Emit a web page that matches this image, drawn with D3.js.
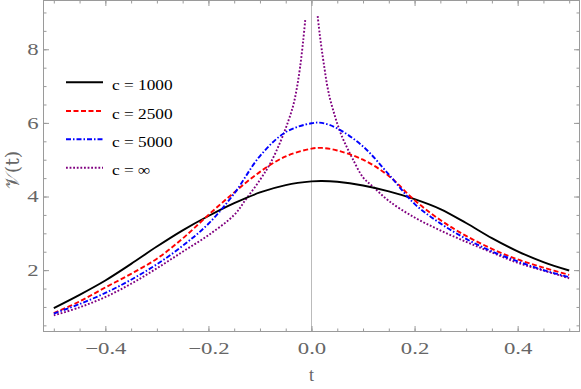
<!DOCTYPE html>
<html><head><meta charset="utf-8">
<script src="https://cdn.jsdelivr.net/npm/d3@7"></script>
<style>body{margin:0;background:#fff}svg{display:block}</style>
</head><body><svg id="c" width="581" height="389"></svg>
<script>
// ---- data ----
const tGrid = [-0.5,-0.45,-0.4,-0.35,-0.3,-0.25,-0.2,-0.15,-0.1,-0.05,0,0.02,0.05,0.1,0.15,0.2,0.25,0.3,0.35,0.4,0.45,0.5];
const v1000 = [0.97,1.33,1.72,2.17,2.64,3.08,3.47,3.82,4.11,4.31,4.41,4.42,4.40,4.30,4.14,3.93,3.66,3.28,2.87,2.51,2.22,1.99];
const v2500 = [0.83,1.15,1.53,1.90,2.31,2.86,3.50,4.11,4.67,5.09,5.30,5.32,5.25,5.00,4.56,3.90,3.36,2.93,2.58,2.29,2.07,1.87];
const v5000 = [0.82,1.08,1.38,1.74,2.16,2.66,3.26,4.08,5.10,5.75,5.99,6.00,5.85,5.36,4.60,3.80,3.27,2.85,2.51,2.24,2.00,1.81];
const infLeftT = [-0.5,-0.45,-0.4,-0.35,-0.3,-0.25,-0.2,-0.15,-0.126,-0.1,-0.08,-0.06,-0.045,-0.035,-0.028,-0.022,-0.016,-0.012];
const infLeftV = [0.77,0.99,1.27,1.63,2.05,2.50,2.95,3.50,3.95,4.45,4.90,5.50,6.05,6.50,6.98,7.53,8.25,8.82];
const infRightT = [0.012,0.016,0.02,0.025,0.03,0.036,0.043,0.05,0.06,0.07,0.08,0.1,0.12,0.15,0.2,0.25,0.3,0.35,0.4,0.45,0.5];
const infRightV = [8.9,8.4,7.98,7.5,7.05,6.65,6.3,5.98,5.6,5.3,5.02,4.52,4.26,3.88,3.43,3.08,2.77,2.48,2.2,1.99,1.78];
const seriesNames = ["c = 1000","c = 2500","c = 5000","c = \u221E"];
const seriesColors = ["#000000","#ff0000","#0000ff","#800080"];
const seriesDash = [null,"5,2.5","5,2,1.5,2","1.8,1.8"];
const xMajorTicks = [-0.4,-0.2,0.0,0.2,0.4];
const yMajorTicks = [2,4,6,8];
const xLabel = "t";
const yLabel = "\uD835\uDCB1(t)";

// ---- layout ----
const svg = d3.select("#c");
const L=43.5, R=579.5, T=0.5, B=331.5;
const x = d3.scaleLinear().domain([-0.52,0.52]).range([L,R]);
const y = d3.scaleLinear().domain([0.333,9.325]).range([B,T]);
const frameCol = "#9a9a9a", labelCol = "#666666";
const xMinor = d3.range(-0.5,0.5001,0.05).map(d=>+d.toFixed(2));
const yMinor = d3.range(0.5,9.01,0.5);

// zero axis line
svg.append("line").attr("x1",x(0)).attr("x2",x(0)).attr("y1",T).attr("y2",B)
  .attr("stroke","#bbbbbb").attr("stroke-width",1);

function styleAxis(g){ g.select(".domain").remove(); g.selectAll("line").attr("stroke",frameCol); }
const fmtX = d3.format(".1f");
// bottom
svg.append("g").attr("transform",`translate(0,${B})`)
  .call(d3.axisBottom(x).tickValues(xMinor).tickSize(-3).tickFormat("")).call(styleAxis);
const gb = svg.append("g").attr("transform",`translate(0,${B})`)
  .call(d3.axisBottom(x).tickValues(xMajorTicks).tickSize(-5.5).tickPadding(11).tickFormat(fmtX)).call(styleAxis);
// top
svg.append("g").attr("transform",`translate(0,${T})`)
  .call(d3.axisTop(x).tickValues(xMinor).tickSize(-3).tickFormat("")).call(styleAxis);
svg.append("g").attr("transform",`translate(0,${T})`)
  .call(d3.axisTop(x).tickValues(xMajorTicks).tickSize(-5.5).tickFormat("")).call(styleAxis);
// left
svg.append("g").attr("transform",`translate(${L},0)`)
  .call(d3.axisLeft(y).tickValues(yMinor).tickSize(-3).tickFormat("")).call(styleAxis);
const gl = svg.append("g").attr("transform",`translate(${L},0)`)
  .call(d3.axisLeft(y).tickValues(yMajorTicks).tickSize(-5.5).tickPadding(5).tickFormat(d3.format("d"))).call(styleAxis);
// right
svg.append("g").attr("transform",`translate(${R},0)`)
  .call(d3.axisRight(y).tickValues(yMinor).tickSize(-3).tickFormat("")).call(styleAxis);
svg.append("g").attr("transform",`translate(${R},0)`)
  .call(d3.axisRight(y).tickValues(yMajorTicks).tickSize(-5.5).tickFormat("")).call(styleAxis);

[gb,gl].forEach(g=>{
  g.selectAll("text").attr("font-family","'Liberation Serif',serif").attr("font-size",16.5).attr("fill",labelCol)
   .each(function(){ const w=this.getComputedTextLength(); d3.select(this).attr("textLength",w*1.38).attr("lengthAdjust","spacingAndGlyphs"); });
});

// frame
svg.append("rect").attr("x",L).attr("y",T).attr("width",R-L).attr("height",B-T)
  .attr("fill","none").attr("stroke",frameCol).attr("stroke-width",1);

// curves
const line = d3.line().x(d=>x(d[0])).y(d=>y(d[1])).curve(d3.curveCatmullRom.alpha(0.5));
const curves = [
  {i:0, pts:tGrid.map((t,k)=>[t,v1000[k]])},
  {i:1, pts:tGrid.map((t,k)=>[t,v2500[k]])},
  {i:2, pts:tGrid.map((t,k)=>[t,v5000[k]])},
  {i:3, pts:infLeftT.map((t,k)=>[t,infLeftV[k]])},
  {i:3, pts:infRightT.map((t,k)=>[t,infRightV[k]])}
];
const order=[3,4,0,1,2];
order.forEach(j=>{
  const c=curves[j];
  svg.append("path").attr("d",line(c.pts)).attr("fill","none")
    .attr("stroke",seriesColors[c.i]).attr("stroke-width",1.9)
    .attr("stroke-dasharray",seriesDash[c.i]);
});

// legend
const legY = [82.3,111,139.3,167.7];
seriesNames.forEach((n,i)=>{
  svg.append("line").attr("x1",66).attr("x2",103).attr("y1",legY[i]).attr("y2",legY[i])
    .attr("stroke",seriesColors[i]).attr("stroke-width",1.9).attr("stroke-dasharray",seriesDash[i]);
  const t=svg.append("text").attr("x",112).attr("y",legY[i]+7.5).text(n)
    .attr("font-family","'Liberation Serif',serif").attr("font-size",15).attr("fill","#000");
  const w=t.node().getComputedTextLength();
  t.attr("textLength",w*1.15).attr("lengthAdjust","spacingAndGlyphs");
});

// axis labels
svg.append("text").attr("x",x(0)).attr("y",381).attr("text-anchor","middle").text(xLabel)
  .attr("font-family","'Liberation Serif',serif").attr("font-size",18).attr("fill",labelCol);
svg.append("text").attr("transform","translate(19,170) rotate(-90)").attr("text-anchor","middle").text(yLabel)
  .attr("font-family","'DejaVu Serif','DejaVu Sans',serif").attr("font-size",19).attr("fill",labelCol);
</script></body></html>
